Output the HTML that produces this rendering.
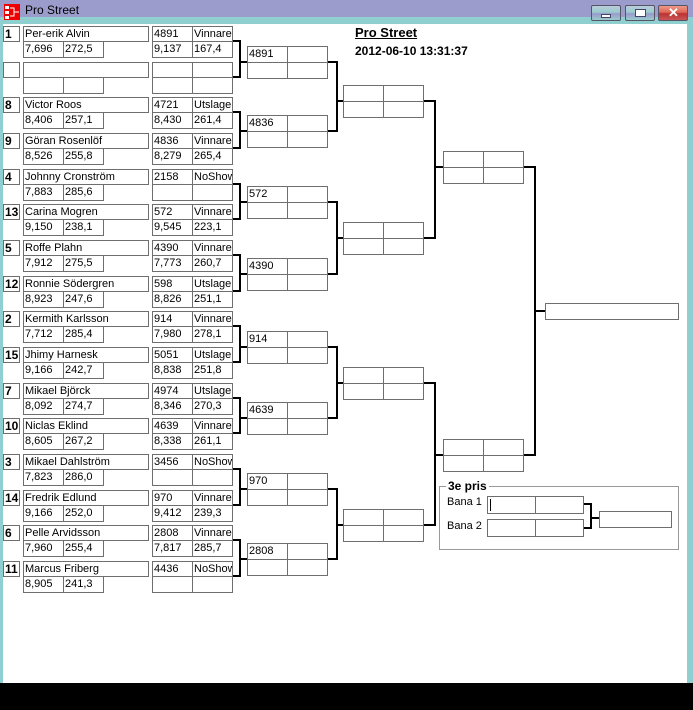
<!DOCTYPE html>
<html><head><meta charset="utf-8"><style>
*{margin:0;padding:0;box-sizing:border-box}
body{width:693px;height:710px;position:relative;background:#000;overflow:hidden;font-family:"Liberation Sans",sans-serif;font-size:11px;color:#000}
#win{position:absolute;left:0;top:0;width:693px;height:683px;background:#8fcfcf}
#tb{position:absolute;left:0;top:0;width:693px;height:17px;background:#9c9ccc}
#tt{position:absolute;left:25px;top:3px;font-size:12px}
#ico{position:absolute;left:4px;top:4px;width:16px;height:16px;background:#e00}
#cl{position:absolute;left:3px;top:24px;width:684px;height:659px;background:#fff}
.btn{position:absolute;top:5px;width:30px;height:16px;border:1px solid #556;border-radius:2px;background:linear-gradient(#bcd 0,#9cc 45%,#99c 55%,#9cc 100%)}
.e{position:absolute;left:0;width:240px;height:32px}
.e i,.r i,.x{position:absolute;font-style:normal;border:1px solid #6e6e6e;background:#fff;padding-left:1px;line-height:14px;white-space:nowrap;overflow:hidden}
.sd{left:3px;top:0;width:17px;height:16px;font-weight:bold;font-size:12px}
.nm{left:23px;top:0;width:126px;height:16px}
.a{left:23px;top:15px;width:41px;height:17px}
.b{left:63px;top:15px;width:41px;height:17px}
.c{left:152px;top:0;width:41px;height:16px}
.d{left:192px;top:0;width:41px;height:16px}
.f{left:152px;top:15px;width:41px;height:17px}
.g{left:192px;top:15px;width:41px;height:17px}
.r{position:absolute;width:81px;height:33px}
.r i:nth-child(1){left:0;top:0;width:41px;height:17px}
.r i:nth-child(2){left:40px;top:0;width:41px;height:17px}
.r i:nth-child(3){left:0;top:16px;width:41px;height:17px}
.r i:nth-child(4){left:40px;top:16px;width:41px;height:17px}
</style></head><body>
<div id="win">
<div id="tb"></div>
<div id="ico"><svg width="16" height="16"><rect x="1" y="2" width="4" height="3" fill="#fff"/><rect x="1" y="7" width="4" height="3" fill="#fff"/><rect x="1" y="12" width="4" height="3" fill="#fff"/><path d="M6 4h4v8h-4M10 8h5" stroke="#fff" fill="none"/></svg></div>
<div id="tt">Pro Street</div>
<div class="btn" style="left:591px"><div style="position:absolute;left:9px;top:8px;width:10px;height:4px;background:#fff;border:1px solid #446"></div></div>
<div class="btn" style="left:625px"><div style="position:absolute;left:9px;top:3px;width:11px;height:8px;border:1px solid #446;background:#fff"></div></div>
<div class="btn" style="left:658px;background:linear-gradient(#e98 0,#d65 45%,#b33 55%,#c55 100%)"><div style="position:absolute;left:9px;top:0;font-weight:bold;color:#fff;font-size:13px;line-height:14px">✕</div></div>
<div id="cl"></div>
</div>
<div style="position:absolute;left:0;top:0;width:693px;height:683px">
<div style="position:absolute;left:355px;top:25px;font-size:13px;font-weight:bold;text-decoration:underline">Pro Street</div>
<div style="position:absolute;left:355px;top:44px;font-size:12px;font-weight:bold">2012-06-10 13:31:37</div>

<div class="e" style="top:26px"><i class="sd">1</i><i class="nm">Per-erik Alvin</i><i class="a">7,696</i><i class="b">272,5</i><i class="c">4891</i><i class="d">Vinnare</i><i class="f">9,137</i><i class="g">167,4</i></div>
<div class="e" style="top:62px"><i class="sd"></i><i class="nm"></i><i class="a"></i><i class="b"></i><i class="c"></i><i class="d"></i><i class="f"></i><i class="g"></i></div>
<div class="e" style="top:97px"><i class="sd">8</i><i class="nm">Victor Roos</i><i class="a">8,406</i><i class="b">257,1</i><i class="c">4721</i><i class="d">Utslagen</i><i class="f">8,430</i><i class="g">261,4</i></div>
<div class="e" style="top:133px"><i class="sd">9</i><i class="nm">Göran Rosenlöf</i><i class="a">8,526</i><i class="b">255,8</i><i class="c">4836</i><i class="d">Vinnare</i><i class="f">8,279</i><i class="g">265,4</i></div>
<div class="e" style="top:169px"><i class="sd">4</i><i class="nm">Johnny Cronström</i><i class="a">7,883</i><i class="b">285,6</i><i class="c">2158</i><i class="d">NoShow</i><i class="f"></i><i class="g"></i></div>
<div class="e" style="top:204px"><i class="sd">13</i><i class="nm">Carina Mogren</i><i class="a">9,150</i><i class="b">238,1</i><i class="c">572</i><i class="d">Vinnare</i><i class="f">9,545</i><i class="g">223,1</i></div>
<div class="e" style="top:240px"><i class="sd">5</i><i class="nm">Roffe Plahn</i><i class="a">7,912</i><i class="b">275,5</i><i class="c">4390</i><i class="d">Vinnare</i><i class="f">7,773</i><i class="g">260,7</i></div>
<div class="e" style="top:276px"><i class="sd">12</i><i class="nm">Ronnie Södergren</i><i class="a">8,923</i><i class="b">247,6</i><i class="c">598</i><i class="d">Utslagen</i><i class="f">8,826</i><i class="g">251,1</i></div>
<div class="e" style="top:311px"><i class="sd">2</i><i class="nm">Kermith Karlsson</i><i class="a">7,712</i><i class="b">285,4</i><i class="c">914</i><i class="d">Vinnare</i><i class="f">7,980</i><i class="g">278,1</i></div>
<div class="e" style="top:347px"><i class="sd">15</i><i class="nm">Jhimy Harnesk</i><i class="a">9,166</i><i class="b">242,7</i><i class="c">5051</i><i class="d">Utslagen</i><i class="f">8,838</i><i class="g">251,8</i></div>
<div class="e" style="top:383px"><i class="sd">7</i><i class="nm">Mikael Björck</i><i class="a">8,092</i><i class="b">274,7</i><i class="c">4974</i><i class="d">Utslagen</i><i class="f">8,346</i><i class="g">270,3</i></div>
<div class="e" style="top:418px"><i class="sd">10</i><i class="nm">Niclas Eklind</i><i class="a">8,605</i><i class="b">267,2</i><i class="c">4639</i><i class="d">Vinnare</i><i class="f">8,338</i><i class="g">261,1</i></div>
<div class="e" style="top:454px"><i class="sd">3</i><i class="nm">Mikael Dahlström</i><i class="a">7,823</i><i class="b">286,0</i><i class="c">3456</i><i class="d">NoShow</i><i class="f"></i><i class="g"></i></div>
<div class="e" style="top:490px"><i class="sd">14</i><i class="nm">Fredrik Edlund</i><i class="a">9,166</i><i class="b">252,0</i><i class="c">970</i><i class="d">Vinnare</i><i class="f">9,412</i><i class="g">239,3</i></div>
<div class="e" style="top:525px"><i class="sd">6</i><i class="nm">Pelle Arvidsson</i><i class="a">7,960</i><i class="b">255,4</i><i class="c">2808</i><i class="d">Vinnare</i><i class="f">7,817</i><i class="g">285,7</i></div>
<div class="e" style="top:561px"><i class="sd">11</i><i class="nm">Marcus Friberg</i><i class="a">8,905</i><i class="b">241,3</i><i class="c">4436</i><i class="d">NoShow</i><i class="f"></i><i class="g"></i></div>

<div class="r" style="left:247px;top:46px"><i>4891</i><i></i><i></i><i></i></div>
<div class="r" style="left:247px;top:115px"><i>4836</i><i></i><i></i><i></i></div>
<div class="r" style="left:247px;top:186px"><i>572</i><i></i><i></i><i></i></div>
<div class="r" style="left:247px;top:258px"><i>4390</i><i></i><i></i><i></i></div>
<div class="r" style="left:247px;top:331px"><i>914</i><i></i><i></i><i></i></div>
<div class="r" style="left:247px;top:402px"><i>4639</i><i></i><i></i><i></i></div>
<div class="r" style="left:247px;top:473px"><i>970</i><i></i><i></i><i></i></div>
<div class="r" style="left:247px;top:543px"><i>2808</i><i></i><i></i><i></i></div>

<div class="r" style="left:343px;top:85px"><i></i><i></i><i></i><i></i></div>
<div class="r" style="left:343px;top:222px"><i></i><i></i><i></i><i></i></div>
<div class="r" style="left:343px;top:367px"><i></i><i></i><i></i><i></i></div>
<div class="r" style="left:343px;top:509px"><i></i><i></i><i></i><i></i></div>
<div class="r" style="left:443px;top:151px"><i></i><i></i><i></i><i></i></div>
<div class="r" style="left:443px;top:439px"><i></i><i></i><i></i><i></i></div>
<i class="x" style="left:545px;top:303px;width:134px;height:17px"></i>

<div style="position:absolute;left:439px;top:486px;width:240px;height:64px;border:1px solid #999"></div>
<div style="position:absolute;left:446px;top:479px;background:#fff;padding:0 2px;font-weight:bold;font-size:12px">3e pris</div>
<div style="position:absolute;left:447px;top:496px">Bana 1</div>
<div style="position:absolute;left:447px;top:520px">Bana 2</div>
<i class="x" style="left:487px;top:496px;width:49px;height:18px"></i>
<i class="x" style="left:535px;top:496px;width:49px;height:18px"></i>
<div style="position:absolute;left:490px;top:499px;width:1px;height:12px;background:#000"></div>
<i class="x" style="left:487px;top:519px;width:49px;height:18px"></i>
<i class="x" style="left:535px;top:519px;width:49px;height:18px"></i>
<i class="x" style="left:599px;top:511px;width:73px;height:17px"></i>

<svg width="693" height="683" style="position:absolute;left:0;top:0" fill="none" stroke="#000" stroke-width="2">
<path d="M233 41H240V77H233M240 62H247"/>
<path d="M233 112H240V148H233M240 131H247"/>
<path d="M233 184H240V219H233M240 202H247"/>
<path d="M233 255H240V291H233M240 274H247"/>
<path d="M233 326H240V362H233M240 347H247"/>
<path d="M233 398H240V433H233M240 418H247"/>
<path d="M233 469H240V505H233M240 489H247"/>
<path d="M233 540H240V576H233M240 559H247"/>
<path d="M328 62H337V131H328M337 101H343"/>
<path d="M328 202H337V274H328M337 238H343"/>
<path d="M328 347H337V418H328M337 383H343"/>
<path d="M328 489H337V559H328M337 525H343"/>
<path d="M424 101H435V238H424M435 167H443"/>
<path d="M424 383H435V525H424M435 455H443"/>
<path d="M524 167H535V455H524M535 311H545"/>
<path d="M584 504H591V528H584M591 518H599"/>
</svg>
</div>
</body></html>
